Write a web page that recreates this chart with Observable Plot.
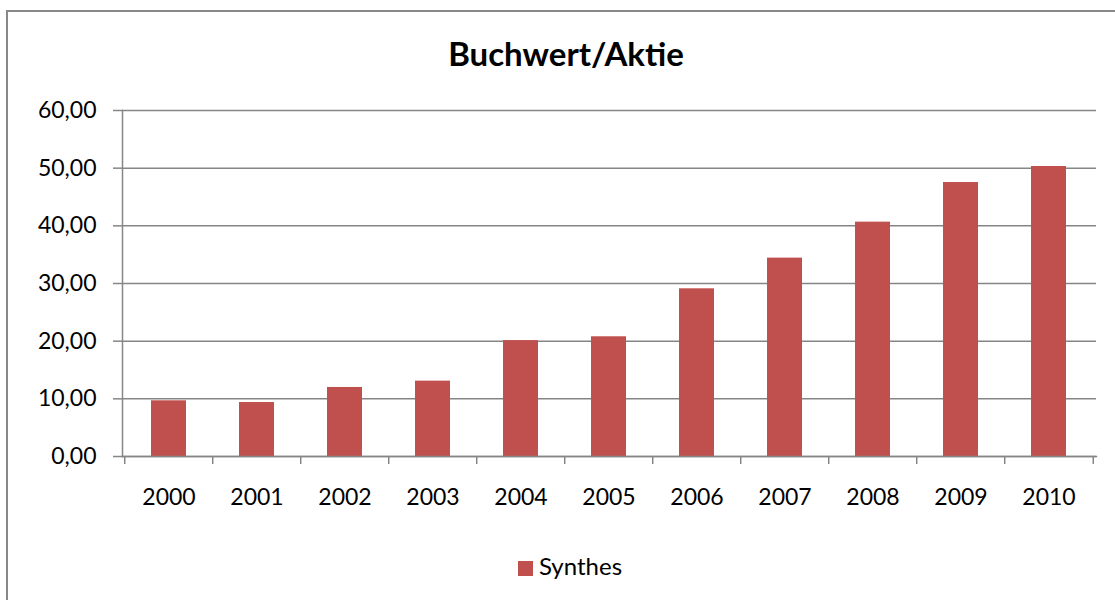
<!DOCTYPE html>
<html>
<head>
<meta charset="utf-8">
<script src="https://cdn.jsdelivr.net/npm/d3@7"></script>
<script src="https://cdn.jsdelivr.net/npm/@observablehq/plot@0.6"></script>
<style>
  html, body { margin: 0; padding: 0; background: #fff; overflow: hidden; width: 1115px; height: 600px; }
  body { position: relative; font-family: Lato, "Open Sans", sans-serif; }
  #frame { position: absolute; left: 6px; top: 10px; width: 1300px; height: 800px; border: 2px solid #888; box-sizing: border-box; }
  #title { position: absolute; left: 0; width: 1132px; top: 35px; text-align: center; font-weight: bold; font-size: 33px; color: #000; line-height: 36px; }
  #chart { position: absolute; left: 0; top: 90px; }
  #legend { position: absolute; left: 0; width: 1140px; top: 553px; text-align: center; font-size: 24px; line-height: 26px; color: #000; }
  #legend .sw { display: inline-block; width: 15px; height: 15px; background: #C0504D; margin-right: 6px; vertical-align: -1px; }
</style>
</head>
<body>
<div id="frame"></div>
<div id="title"></div>
<div id="chart"></div>
<div id="legend"></div>
<script>
const title = "Buchwert/Aktie";
const seriesName = "Synthes";
const years = ["2000","2001","2002","2003","2004","2005","2006","2007","2008","2009","2010"];
const values = [9.66, 9.36, 11.97, 13.07, 20.1, 20.76, 29.08, 34.4, 40.64, 47.51, 50.29];
const yTicks = [0, 10, 20, 30, 40, 50, 60];
const barColor = "#C0504D";
const gridColor = "#868686";

const data = years.map((y, i) => ({year: y, value: values[i]}));
const fmt = d => d.toFixed(2).replace(".", ",");

const width = 1115, height = 430;
const marginLeft = 122, marginRight = 19, marginTop = 20, marginBottom = 64;
const step = (width - marginLeft - marginRight) / years.length;

document.getElementById("title").textContent = title;
document.getElementById("legend").innerHTML = `<span class="sw"></span>${seriesName}`;

const plot = Plot.plot({
  width, height, marginLeft, marginRight, marginTop, marginBottom,
  style: {fontFamily: "Lato, 'Open Sans', sans-serif", fontSize: "23px", color: "#000", background: "transparent"},
  x: {domain: years, paddingInner: 0.6, paddingOuter: 0.3, label: null},
  y: {domain: [0, 60], label: null},
  marks: [
    Plot.gridY(yTicks, {stroke: gridColor, strokeOpacity: 1, strokeWidth: 1.5}),
    Plot.axisY(yTicks, {tickSize: 9, tickPadding: 17, tickFormat: fmt, stroke: gridColor, strokeWidth: 1.5, fill: "#000", fontSize: 23, label: null}),
    Plot.barY(data, {x: "year", y: "value", fill: barColor}),
    Plot.frame({anchor: "left", stroke: gridColor, strokeWidth: 1.5}),
    Plot.frame({anchor: "bottom", stroke: gridColor, strokeWidth: 1.5}),
    Plot.axisX(years, {tickSize: 8, dx: -step / 2, text: null, stroke: gridColor, strokeWidth: 1.5, label: null}),
    Plot.axisX(years.slice(-1), {tickSize: 8, dx: step / 2, text: null, stroke: gridColor, strokeWidth: 1.5, label: null}),
    Plot.axisX(years, {tickSize: 0, tickPadding: 32, fill: "#000", fontSize: 23, label: null})
  ]
});
document.getElementById("chart").appendChild(plot);
</script>
</body>
</html>
